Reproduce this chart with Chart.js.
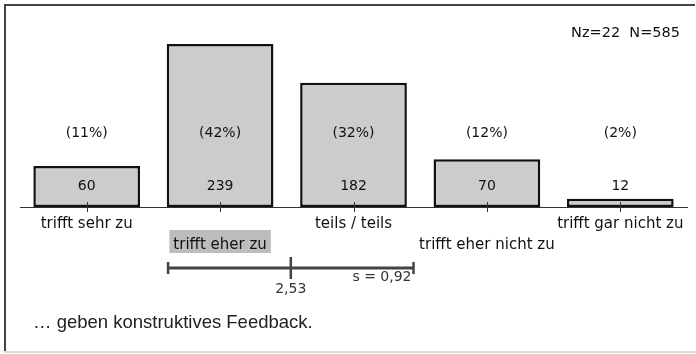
<!DOCTYPE html>
<html>
<head>
<meta charset="utf-8">
<script src="https://cdn.jsdelivr.net/npm/chart.js@4.4.0/dist/chart.umd.min.js"></script>
<style>
  body { margin: 0; background: #fff; }
  #wrap { width: 696px; height: 354px; position: relative; }
</style>
</head>
<body>
<div id="wrap"><canvas id="chart"></canvas></div>
<script>
// Daten aus dem Bild
const categories = ["trifft sehr zu", "trifft eher zu", "teils / teils", "trifft eher nicht zu", "trifft gar nicht zu"];
const counts = [60, 239, 182, 70, 12];
const percents = [11, 42, 32, 12, 2];
const meanValue = 2.53;
const sdValue = 0.92;
const nz = 22;
const nTotal = 585;
const highlightIndex = 1; // Kategorie mit grauem Hintergrund
const itemText = "… geben konstruktives Feedback.";

const fmt = (v) => v.toFixed(2).replace(".", ",");

// Zusatz-Zeichnungen: Rahmen, Werte, Mittelwert-Balken
const extras = {
  id: "extras",
  beforeDraw(chart) {
    const c = chart.ctx;
    const x = chart.scales.x;
    // grauer Hintergrund hinter dem Label
    c.save();
    c.font = "15px 'DejaVu Sans'";
    const w = c.measureText(categories[highlightIndex]).width;
    const cx = x.getPixelForValue(highlightIndex);
    c.fillStyle = "#bdbdbd";
    c.fillRect(cx - w / 2 - 4, 230, w + 8, 23);
    c.restore();
  },
  afterDraw(chart) {
    const c = chart.ctx;
    const x = chart.scales.x;
    const base = chart.scales.y.getPixelForValue(0);
    c.save();

    // Striche auf der Achse
    c.strokeStyle = "#333";
    c.lineWidth = 1;
    categories.forEach((_, i) => {
      const px = Math.round(x.getPixelForValue(i)) + 0.5;
      c.beginPath();
      c.moveTo(px, base - 5);
      c.lineTo(px, base + 5);
      c.stroke();
    });

    // Prozente und Anzahlen
    c.fillStyle = "#111";
    c.textAlign = "center";
    c.textBaseline = "middle";
    c.font = "14px 'DejaVu Sans'";
    percents.forEach((p, i) => {
      c.fillText("(" + p + "%)", x.getPixelForValue(i), base - 74);
      c.fillText(String(counts[i]), x.getPixelForValue(i), base - 21);
    });

    // N-Angabe
    c.textAlign = "right";
    c.font = "14.5px 'DejaVu Sans'";
    c.fillText("Nz=" + nz + "  N=" + nTotal, 680, 33);

    // Mittelwert und Standardabweichung
    const mx = x.getPixelForValue(meanValue - 1);
    const lx = x.getPixelForValue(meanValue - sdValue - 1);
    const rx = x.getPixelForValue(meanValue + sdValue - 1);
    const my = 268;
    c.strokeStyle = "#444";
    c.lineWidth = 3;
    c.beginPath();
    c.moveTo(lx, my);
    c.lineTo(rx, my);
    c.stroke();
    c.lineWidth = 2.5;
    c.beginPath();
    c.moveTo(lx, my - 6); c.lineTo(lx, my + 6);
    c.moveTo(rx, my - 6); c.lineTo(rx, my + 6);
    c.moveTo(mx, my - 11); c.lineTo(mx, my + 11);
    c.stroke();

    c.fillStyle = "#333";
    c.font = "14px 'DejaVu Sans'";
    c.textAlign = "center";
    c.fillText(fmt(meanValue), mx, 289);
    c.textAlign = "right";
    c.fillText("s = " + fmt(sdValue), rx - 2, 277);

    // Item-Text
    c.fillStyle = "#222";
    c.textAlign = "left";
    c.font = "18.5px 'Liberation Sans'";
    c.fillText(itemText, 33, 323);

    // Rahmen
    c.fillStyle = "#444";
    c.fillRect(4, 4, 691, 2);
    c.fillRect(4, 4, 2, 348);
    c.fillStyle = "#dcdcdc";
    c.fillRect(4, 351, 692, 2);
    c.restore();
  },
};

const ctx = document.getElementById("chart").getContext("2d");
const chart = new Chart(ctx, {
  type: "bar",
  data: {
    labels: categories,
    datasets: [
      {
        data: counts,
        backgroundColor: "#cccccc",
        borderColor: "#111",
        borderWidth: 2.5,
        borderSkipped: false,
        categoryPercentage: 0.8,
        barPercentage: 1,
      },
    ],
  },
  options: {
    responsive: true,
    maintainAspectRatio: false,
    animation: false,
    layout: { padding: { left: 20, right: 9, top: 16, bottom: 0 } },
    plugins: {
      legend: { display: false },
      tooltip: { enabled: false },
    },
    scales: {
      x: {
        grid: { display: false },
        border: { display: true, color: "#333", width: 1 },
        ticks: {
          autoSkip: false,
          maxRotation: 0,
          minRotation: 0,
          padding: -1,
          color: "#111",
          font: { family: "'DejaVu Sans'", size: 15, lineHeight: 1.4 },
          callback: (v, i) => (i % 2 === 1 ? ["", categories[i]] : categories[i]),
        },
        afterFit: (scale) => {
          scale.height = 147;
        },
      },
      y: {
        display: false,
        min: 0,
        max: 280,
      },
    },
  },
  plugins: [extras],
});
</script>
</body>
</html>
